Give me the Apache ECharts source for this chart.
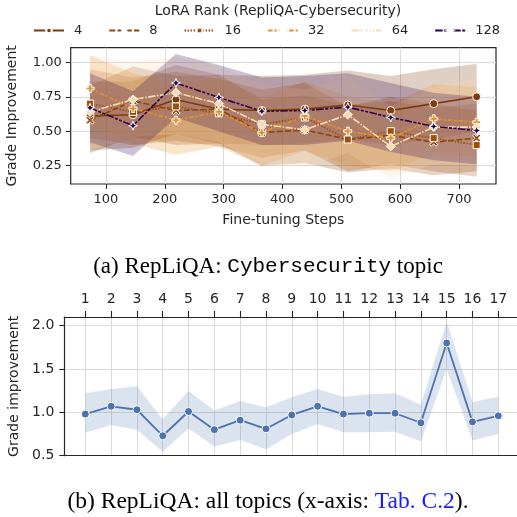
<!DOCTYPE html>
<html><head><meta charset="utf-8">
<script src="https://cdn.jsdelivr.net/npm/echarts@6/dist/echarts.min.js"></script>
<style>html,body{margin:0;padding:0;background:#fff}#c{width:517px;height:517px}</style>
</head><body><div id="c"></div>
<script>
// ---- Top panel data (RepLiQA: Cybersecurity) ----
const steps = [73,146,219,292,365,438,511,584,657,730];
const ranks = ['4','8','16','32','64','128'];
const rank4   = [0.61,0.62,0.73,0.66,0.65,0.66,0.69,0.65,0.70,0.75];
const rank4Lo = [0.36,0.38,0.48,0.41,0.40,0.41,0.44,0.40,0.44,0.50];
const rank4Hi = [0.86,0.86,0.98,0.91,0.90,0.91,0.94,0.90,0.95,0.99];
const rank8   = [0.58,0.72,0.65,0.66,0.49,0.51,0.44,0.47,0.42,0.45];
const rank8Lo = [0.34,0.46,0.40,0.41,0.25,0.27,0.20,0.23,0.18,0.21];
const rank8Hi = [0.83,0.97,0.90,0.91,0.73,0.76,0.69,0.72,0.67,0.70];
const rank16   = [0.70,0.64,0.68,0.63,0.55,0.60,0.44,0.50,0.45,0.40];
const rank16Lo = [0.45,0.40,0.43,0.39,0.31,0.36,0.21,0.26,0.21,0.17];
const rank16Hi = [0.95,0.89,0.93,0.88,0.80,0.85,0.68,0.75,0.70,0.65];
const rank32   = [0.81,0.665,0.58,0.64,0.49,0.61,0.50,0.45,0.59,0.565];
const rank32Lo = [0.55,0.41,0.33,0.39,0.25,0.36,0.25,0.21,0.34,0.31];
const rank32Hi = [1.05,0.92,0.83,0.89,0.74,0.86,0.75,0.70,0.84,0.82];
const rank64   = [0.64,0.73,0.78,0.70,0.55,0.51,0.62,0.39,0.53,0.53];
const rank64Lo = [0.36,0.46,0.48,0.42,0.27,0.24,0.34,0.16,0.26,0.25];
const rank64Hi = [1.05,1.00,1.04,0.97,0.84,0.80,0.90,0.68,0.82,0.88];
const rank128   = [0.67,0.54,0.85,0.745,0.645,0.65,0.675,0.60,0.535,0.505];
const rank128Lo = [0.42,0.32,0.60,0.50,0.40,0.40,0.43,0.35,0.29,0.26];
const rank128Hi = [0.92,0.79,1.06,0.98,0.89,0.90,0.92,0.85,0.78,0.75];
const topXTicks = [100,200,300,400,500,600,700];
const topYTicks = [0.25,0.50,0.75,1.00];

// ---- Bottom panel data (RepLiQA: all topics) ----
const topics = [1,2,3,4,5,6,7,8,9,10,11,12,13,14,15,16,17];
const allGrade   = [0.98,1.07,1.03,0.73,1.01,0.80,0.91,0.81,0.97,1.07,0.98,0.99,0.99,0.88,1.80,0.89,0.96];
const allGradeLo = [0.765,0.855,0.80,0.545,0.815,0.605,0.68,0.575,0.75,0.865,0.77,0.77,0.775,0.665,1.50,0.675,0.75];
const allGradeHi = [1.22,1.27,1.30,0.92,1.245,1.02,1.13,1.06,1.175,1.27,1.18,1.21,1.22,1.09,2.045,1.12,1.18];
const bottomYTicks = [0.5,1.0,1.5,2.0];

const colors = ['#7f3b08','#914507','#a04d07','#e8902a','#fcdab0','#2d004b'];
const means = [rank4,rank8,rank16,rank32,rank64,rank128];
const los = [rank4Lo,rank8Lo,rank16Lo,rank32Lo,rank64Lo,rank128Lo];
const his = [rank4Hi,rank8Hi,rank16Hi,rank32Hi,rank64Hi,rank128Hi];
const dashes = ['solid',[6,2.25],[1.5,1.5],[4.5,1.9,2.25,1.9],[7.5,1.5,1.5,1.5],[7.5,1.5,3,1.5,3,1.5]];
const symbols = [
  'circle',
  'path://M2,0 L5,3 L8,0 L10,2 L7,5 L10,8 L8,10 L5,7 L2,10 L0,8 L3,5 L0,2 Z',
  'rect',
  'path://M3.3,0 H6.7 V3.3 H10 V6.7 H6.7 V10 H3.3 V6.7 H0 V3.3 H3.3 Z',
  'diamond',
  'path://M5,0 L6.4,3.6 L10,5 L6.4,6.4 L5,10 L3.6,6.4 L0,5 L3.6,3.6 Z'
];
const symSizes = [8,8,7,8,9,9];

const FONT = 'DejaVu Sans';
const TXT = '#262626';

function band(xs, lo, hi, color, opacity, xi, yi) {
  return {
    type: 'custom', xAxisIndex: xi, yAxisIndex: yi, silent: true, z: 1,
    data: xs.map((x, i) => [x, lo[i], hi[i]]),
    encode: {x: 0, y: [1, 2]},
    renderItem: function (params, api) {
      if (params.dataIndex !== 0) return null;
      const pts = [];
      for (let i = 0; i < xs.length; i++) pts.push(api.coord([xs[i], hi[i]]));
      for (let i = xs.length - 1; i >= 0; i--) pts.push(api.coord([xs[i], lo[i]]));
      return {type: 'polygon', shape: {points: pts}, style: {fill: color, opacity: opacity}};
    }
  };
}

const series = [];
ranks.forEach((r, k) => {
  series.push(band(steps, los[k], his[k], colors[k], 0.24, 0, 0));
});
ranks.forEach((r, k) => {
  series.push({
    name: r, type: 'line', xAxisIndex: 0, yAxisIndex: 0, z: 3,
    data: steps.map((s, i) => [s, means[k][i]]),
    symbol: symbols[k], symbolSize: symSizes[k], showAllSymbol: true,
    itemStyle: {color: colors[k], borderColor: '#ffffff', borderWidth: 1},
    lineStyle: {color: colors[k], width: 1.6, type: dashes[k]},
    emphasis: {disabled: true}
  });
});
series.push(band(topics, allGradeLo, allGradeHi, '#4c72b0', 0.2, 1, 1));
series.push({
  type: 'line', xAxisIndex: 1, yAxisIndex: 1, z: 3,
  data: topics.map((t, i) => [t, allGrade[i]]),
  symbol: 'circle', symbolSize: 8, showAllSymbol: true,
  itemStyle: {color: '#4c72b0', borderColor: '#ffffff', borderWidth: 1},
  lineStyle: {color: '#4c72b0', width: 1.8},
  emphasis: {disabled: true}
});

const spine = {show: true, onZero: false, lineStyle: {color: TXT, width: 1.2}};
const axisCommon = {
  axisLine: {show: false},
  axisTick: {show: true, inside: false, length: 5, lineStyle: {color: TXT, width: 1.1}},
  splitLine: {show: true, lineStyle: {color: '#dadada', width: 1}},
  axisLabel: {color: TXT, fontFamily: FONT, fontSize: 13},
  nameTextStyle: {color: TXT, fontFamily: FONT, fontSize: 14}
};

const option = {
  animation: false,
  backgroundColor: '#ffffff',
  title: [
    {text: 'LoRA Rank (RepliQA-Cybersecurity)', left: 273, top: -1, textAlign: 'center',
     textStyle: {fontFamily: FONT, fontSize: 14, fontWeight: 'normal', color: TXT}},
    {text: '{s|(a) RepLiQA: }{m|Cybersecurity}{s| topic}', left: 263, top: 250, textAlign: 'center',
     textStyle: {fontWeight: 'normal', rich: {
       s: {fontFamily: 'Liberation Serif', fontSize: 23, fontWeight: 'normal', color: '#000'},
       m: {fontFamily: 'Liberation Mono', fontSize: 21, fontWeight: 'normal', color: '#000'}}}},
    {text: '{s|(b) RepLiQA: all topics (x-axis: }{b|Tab. C.2}{s|).}', left: 263, top: 485, textAlign: 'center',
     textStyle: {fontWeight: 'normal', rich: {
       s: {fontFamily: 'Liberation Serif', fontSize: 23.5, fontWeight: 'normal', color: '#000'},
       b: {fontFamily: 'Liberation Serif', fontSize: 23.5, fontWeight: 'normal', color: '#1a1aff'}}}}
  ],
  legend: {
    data: ranks, left: 33, top: 24, width: 484, itemWidth: 30, itemHeight: 7, itemGap: 26,
    padding: 0,
    textStyle: {color: TXT, fontFamily: FONT, fontSize: 13, padding: [0, 0, 0, 5]},
    selectedMode: false
  },
  grid: [
    {left: 70.7, right: 21, top: 47.7, height: 136.3, show: true, borderColor: TXT, borderWidth: 1.2,
     backgroundColor: 'transparent', outerBoundsMode: 'none'},
    {left: 64.3, width: 458, top: 317, height: 138.7, show: false, outerBoundsMode: 'none'}
  ],
  xAxis: [
    Object.assign({}, axisCommon, {
      type: 'value', gridIndex: 0, min: 40.15, max: 762.85,
      name: 'Fine-tuning Steps', nameLocation: 'middle', nameGap: 29,
      axisTick: Object.assign({}, axisCommon.axisTick, {customValues: topXTicks}),
      axisLabel: Object.assign({}, axisCommon.axisLabel, {customValues: topXTicks, margin: 9})
    }),
    Object.assign({}, axisCommon, {
      type: 'value', gridIndex: 1, position: 'top', min: 0.186, max: 17.93,
      axisLine: spine,
      axisTick: Object.assign({}, axisCommon.axisTick, {customValues: topics, length: 6}),
      axisLabel: Object.assign({}, axisCommon.axisLabel, {customValues: topics, margin: 11, fontSize: 14})
    }),
    {
      type: 'value', gridIndex: 1, position: 'bottom', min: 0.186, max: 17.93,
      axisLine: spine, axisTick: {show: false}, axisLabel: {show: false}, splitLine: {show: false}
    }
  ],
  yAxis: [
    Object.assign({}, axisCommon, {
      type: 'value', gridIndex: 0, min: 0.117, max: 1.106,
      name: 'Grade Improvement', nameLocation: 'middle', nameGap: 51,
      axisTick: Object.assign({}, axisCommon.axisTick, {customValues: topYTicks}),
      axisLabel: Object.assign({}, axisCommon.axisLabel, {customValues: topYTicks, margin: 9,
        formatter: v => v.toFixed(2)})
    }),
    Object.assign({}, axisCommon, {
      type: 'value', gridIndex: 1, min: 0.5, max: 2.1,
      name: 'Grade improvement', nameLocation: 'middle', nameGap: 42,
      axisLine: spine,
      axisTick: Object.assign({}, axisCommon.axisTick, {customValues: bottomYTicks}),
      axisLabel: Object.assign({}, axisCommon.axisLabel, {customValues: bottomYTicks, margin: 10, fontSize: 14,
        formatter: v => v.toFixed(1)})
    })
  ],
  series: series
};
const chart = echarts.init(document.getElementById('c'), null, {renderer: 'canvas'});
chart.setOption(option);
</script></body></html>
